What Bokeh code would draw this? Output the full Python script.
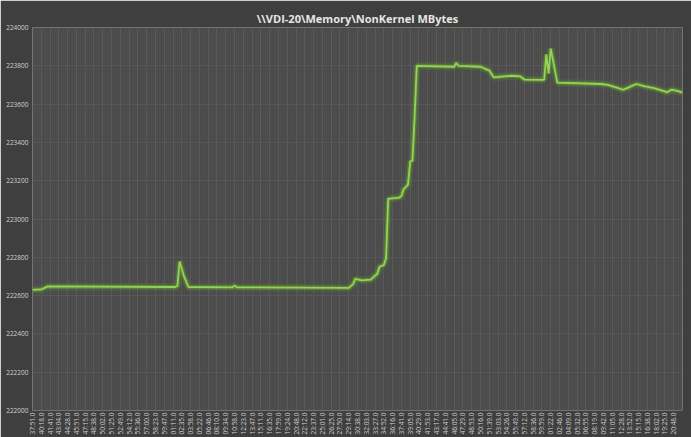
from bokeh.plotting import figure
from bokeh.models import FixedTicker, Range1d
from bokeh.embed import file_html
from bokeh.resources import INLINE

# Category labels along the time axis (one every 4 samples)
time_labels = [
    "37:51.0", "40:18.0", "41:41.0", "43:04.0", "44:28.0", "45:51.0", "47:15.0", "48:38.0",
    "50:02.0", "51:25.0", "52:49.0", "54:12.0", "55:36.0", "57:00.0", "58:23.0", "59:47.0",
    "01:11.0", "02:35.0", "03:58.0", "05:22.0", "06:46.0", "08:10.0", "09:34.0", "10:58.0",
    "12:23.0", "13:47.0", "15:11.0", "16:35.0", "17:59.0", "19:24.0", "20:48.0", "22:12.0",
    "23:37.0", "25:01.0", "26:25.0", "27:50.0", "29:14.0", "30:38.0", "32:03.0", "33:27.0",
    "34:52.0", "36:16.0", "37:41.0", "39:05.0", "40:29.0", "41:53.0", "43:17.0", "44:41.0",
    "46:05.0", "47:29.0", "48:53.0", "50:16.0", "51:39.0", "53:03.0", "54:26.0", "55:49.0",
    "57:12.0", "58:36.0", "59:59.0", "01:22.0", "02:46.0", "04:09.0", "05:32.0", "06:55.0",
    "08:19.0", "09:42.0", "11:05.0", "12:28.0", "13:52.0", "15:15.0", "16:38.0", "18:02.0",
    "19:25.0", "20:48.0",
]
samples_per_label = 4

# Counter samples: sample number and NonKernel MBytes
sample_idx = [
    0, 4, 7, 65, 66, 67, 69, 71, 91, 92, 93, 122, 144, 146, 147, 150, 154, 157, 158, 160,
    161, 162, 167, 168, 169, 171, 172, 173, 174, 175, 192, 193, 194, 204, 208, 210, 218,
    222, 224, 233, 234, 235, 236, 239, 259, 262, 265, 269, 272, 275, 279, 283, 289, 291,
    294, 296,
]
nonkernel_mb = [
    222630, 222632, 222648, 222645, 222650, 222778, 222700, 222645, 222643, 222652, 222643,
    222642, 222640, 222660, 222687, 222680, 222683, 222714, 222750, 222760,
    222795, 223105, 223112, 223120, 223155, 223180, 223300, 223305, 223530, 223800,
    223795, 223815, 223800, 223795, 223775, 223740, 223748,
    223745, 223728, 223727, 223860, 223760, 223890, 223712, 223705, 223700, 223690,
    223675, 223690, 223705, 223692, 223683, 223662, 223675,
    223668, 223660,
]

y_ticks = list(range(222000, 224001, 200))

p = figure(
    width=691, height=437,
    output_backend="svg", toolbar_location=None,
    x_range=Range1d(0, 296), y_range=Range1d(222000, 224000),
    background_fill_color="#4b4b4b", border_fill_color="#3f3f3f",
    min_border_left=32, min_border_right=9, min_border_top=27, min_border_bottom=20,
    outline_line_color=None,
)

p.title.text = "\\\\VDI-20\\Memory\\NonKernel MBytes"
p.title.align = "center"
p.title.text_color = "#e6e6e6"
p.title.text_font = "Open Sans"
p.title.text_font_size = "11px"
p.title.text_font_style = "bold"
p.title.standoff = 4

label_ticks = [i * samples_per_label for i in range(len(time_labels))]
p.xaxis.ticker = FixedTicker(ticks=label_ticks, minor_ticks=list(range(0, 297)))
p.xaxis.major_label_overrides = {t: lab for t, lab in zip(label_ticks, time_labels)}
p.xaxis.major_label_orientation = 1.5708
p.yaxis.ticker = FixedTicker(ticks=y_ticks)
p.yaxis.major_label_overrides = {t: str(t) for t in y_ticks}

for ax in (p.xaxis, p.yaxis):
    ax.axis_line_color = None
    ax.major_tick_line_color = None
    ax.minor_tick_line_color = None
    ax.major_tick_out = 0
    ax.major_tick_in = 0
    ax.minor_tick_out = 0
    ax.major_label_text_color = "#d0d0d0"
    ax.major_label_text_font = "Open Sans"
    ax.major_label_text_font_size = "6.5px"
p.xaxis.major_label_standoff = 2
p.yaxis.major_label_standoff = 4

p.xgrid.grid_line_color = "#5e5e5e"
p.xgrid.grid_line_alpha = 0.8
p.xgrid.minor_grid_line_color = "#575757"
p.xgrid.minor_grid_line_alpha = 0.35
p.ygrid.grid_line_color = "#5a5a5a"
p.ygrid.grid_line_alpha = 0.8

# glowing trace
p.line(sample_idx, nonkernel_mb, line_color="#5c9c2c", line_width=8, line_alpha=0.18)
p.line(sample_idx, nonkernel_mb, line_color="#6fb83a", line_width=4.5, line_alpha=0.35)
p.line(sample_idx, nonkernel_mb, line_color="#94d452", line_width=1.8)

open("out.html", "w").write(file_html(p, INLINE))
